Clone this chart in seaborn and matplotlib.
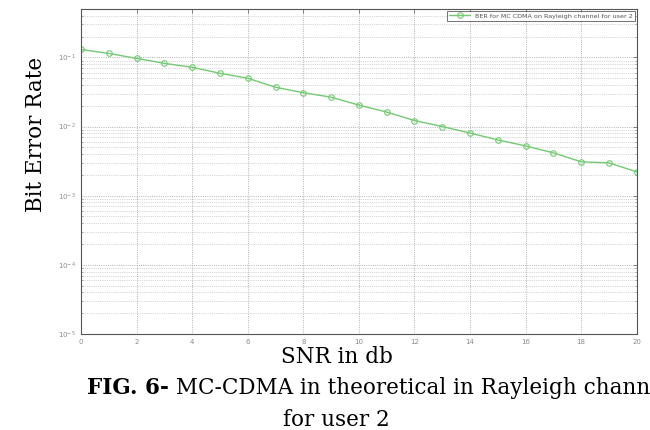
import numpy as np
import pandas as pd
import matplotlib
matplotlib.use("Agg")
import matplotlib.pyplot as plt
from matplotlib.ticker import LogLocator, NullFormatter, FixedLocator
import seaborn as sns

# values
snr_db = list(range(0, 21))
ber_user2 = [0.130, 0.114, 0.0968, 0.082, 0.0718, 0.0589, 0.0499, 0.0370,
             0.0308, 0.0266, 0.0204, 0.0162, 0.0122, 0.0100, 0.00805,
             0.0064, 0.00524, 0.00416, 0.00309, 0.00298, 0.00221]
x_ticks = list(range(0, 21, 2))
y_decades = [1e-5, 1e-4, 1e-3, 1e-2, 1e-1]
legend_label = "BER for MC CDMA on Rayleigh channel for user 2"

df = pd.DataFrame({"snr": snr_db, "ber": ber_user2})

sns.set_style("white")
plt.rcParams["font.family"] = ["DejaVu Sans"]

fig = plt.figure(figsize=(6.5, 4.3), dpi=100)
ax = fig.add_axes([0.1246, 0.2233, 0.855, 0.7557])

sns.lineplot(data=df, x="snr", y="ber", ax=ax, color="#74c974", lw=1.0,
             marker="o", markersize=4, markerfacecolor="none",
             markeredgecolor="#74c974", markeredgewidth=0.8,
             label=legend_label)

ax.set_yscale("log")
ax.set_xlim(0, 20)
ax.set_ylim(1e-5, 0.5)
ax.xaxis.set_major_locator(FixedLocator(x_ticks))
ax.yaxis.set_major_locator(FixedLocator(y_decades))
ax.yaxis.set_minor_locator(LogLocator(base=10, subs=np.arange(2, 10)))
ax.yaxis.set_minor_formatter(NullFormatter())

# matlab-like dotted grid
ax.grid(True, which="major", axis="both", linestyle=":", color="#9a9a9a", lw=0.6)
ax.grid(True, which="minor", axis="y", linestyle=":", color="#b0b0b0", lw=0.5)

ax.tick_params(axis="both", which="major", direction="in", length=3,
               labelsize=5, labelcolor="#8a8a8a", color="#555555", width=0.5,
               top=True, right=True)
ax.tick_params(axis="y", which="minor", direction="in", length=1.5,
               color="#777777", width=0.4, right=True, left=True)
for s in ax.spines.values():
    s.set_color("#555555")
    s.set_linewidth(0.8)

ax.set_xlabel("")
ax.set_ylabel("")

leg = ax.legend(loc="upper right", fontsize=4.6, frameon=True, fancybox=False,
                borderpad=0.35, handlelength=3.2, borderaxespad=0.3,
                labelcolor="#555555")
leg.get_frame().set_edgecolor("#333333")
leg.get_frame().set_linewidth(0.6)

serif = ["DejaVu Serif"]
fig.text(0.055, 0.688, "Bit Error Rate", rotation=90, ha="center", va="center",
         fontsize=15.5, family=serif, color="black")
fig.text(0.518, 0.17, "SNR in db", ha="center", va="center",
         fontsize=15.5, family=serif, color="black")
t_bold = fig.text(0.134, 0.098, "FIG. 6-", ha="left", va="center",
                  fontsize=15.5, family=serif, weight="bold", color="black")
ax.annotate(" MC-CDMA in theoretical in Rayleigh chann", xy=(1, 0.5),
            xycoords=t_bold, ha="left", va="center", fontsize=15.5,
            family=serif, color="black", annotation_clip=False)
fig.text(0.518, 0.023, "for user 2", ha="center", va="center",
         fontsize=15.5, family=serif, color="black")

fig.savefig("out.png", dpi=100)
